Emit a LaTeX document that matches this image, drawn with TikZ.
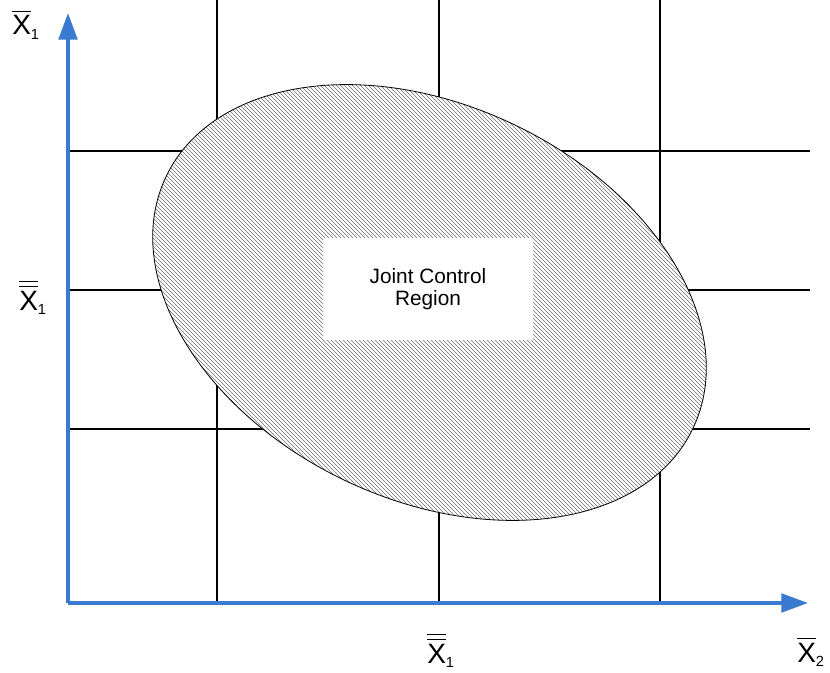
\documentclass[tikz,border=0pt]{standalone}
\usepackage{amsmath}
\usepackage{fontspec}
\setmainfont{Liberation Sans}
\usetikzlibrary{arrows.meta, patterns}
\definecolor{axisblue}{RGB}{58, 122, 208}

\tikzset{
  gridline/.style={black, line width=1.9pt},
  axisline/.style={axisblue, line width=2.5pt, -{Triangle[length=20pt, width=14pt]}},
  region/.style={draw=black, line width=0.6pt, preaction={fill=white}, pattern=north west lines, pattern color=black!55},
  axislabel/.style={font=\fontsize{21}{21}\selectfont, inner sep=0pt, anchor=base west},
}
\newcommand{\idx}[1]{\text{\fontsize{11}{11}\selectfont #1}}

\begin{document}
\begin{tikzpicture}[x=0.75pt, y=-0.75pt]
  \useasboundingbox (0,0) rectangle (830,673);

  % axes end points
  \coordinate (origin) at (68,603);
  \coordinate (xend) at (808,603);
  \coordinate (yend) at (68,13);

  % grid
  \foreach \gx in {217,439,660} \draw[gridline] (\gx,0) -- (\gx,603);
  \foreach \gy in {151,290,429} \draw[gridline] (68,\gy) -- (810,\gy);

  % control ellipse
  \draw[region, rotate around={-25.6:(429.5,302.5)}] (429.5,302.5) ellipse [x radius=292, y radius=197];
  \node[fill=white, minimum width=157pt, minimum height=76.5pt, align=center,
        font=\fontsize{15.6}{17}\selectfont] (ctrl) at (428,289) {Joint Control\\Region};

  % axes
  \draw[axisline] (origin) -- (xend);
  \draw[axisline] (origin) -- (yend);

  % labels
  \node[axislabel] (ytop) at (12,35) {$\overline{\text{X}}_{\idx{1}}$};
  \node[axislabel] (ymid) at (19,310) {$\overline{\overline{\text{X}}}_{\idx{1}}$};
  \node[axislabel] (xmid) at (427,663) {$\overline{\overline{\text{X}}}_{\idx{1}}$};
  \node[axislabel] (xright) at (797,662) {$\overline{\text{X}}_{\idx{2}}$};
\end{tikzpicture}
\end{document}
